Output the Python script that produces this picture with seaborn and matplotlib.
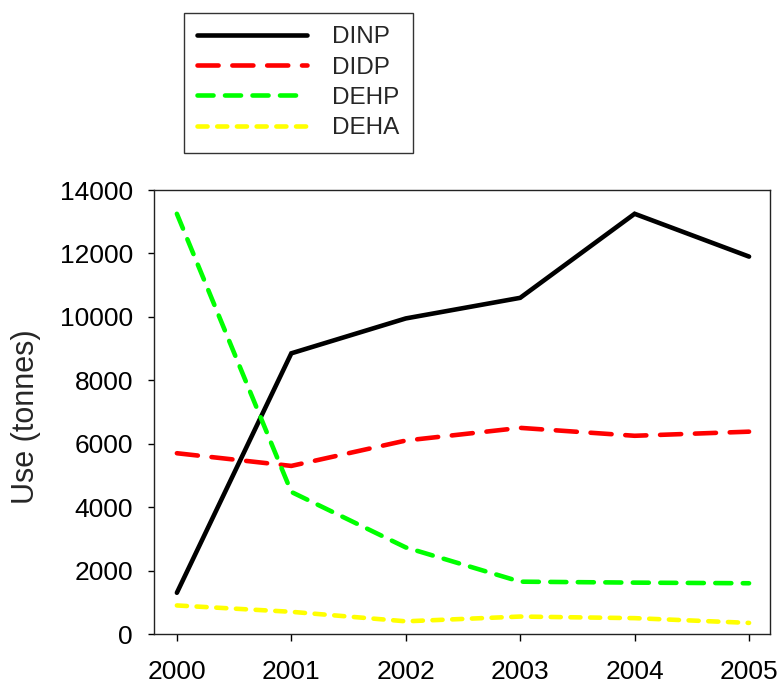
import matplotlib
matplotlib.use("Agg")
import matplotlib.pyplot as plt
import seaborn as sns
import pandas as pd

# ---- data ----
years = [2000, 2001, 2002, 2003, 2004, 2005]
dinp = [1300, 8850, 9950, 10600, 13250, 11900]
didp = [5700, 5300, 6100, 6500, 6250, 6380]
dehp = [13250, 4480, 2730, 1650, 1620, 1600]
deha = [900, 700, 400, 550, 500, 350]
series_names = ["DINP", "DIDP", "DEHP", "DEHA"]
y_ticks = [0, 2000, 4000, 6000, 8000, 10000, 12000, 14000]
y_label = "Use (tonnes)"

sns.set_style("white")
plt.rcParams["font.family"] = ["Liberation Sans", "DejaVu Sans"]

df = pd.DataFrame({
    "year": years * 4,
    "value": dinp + didp + dehp + deha,
    "series": sum([[n] * len(years) for n in series_names], []),
})

colors = {"DINP": "#000000", "DIDP": "#ff0000", "DEHP": "#00ff00", "DEHA": "#ffff00"}
styles = {
    "DINP": "-",
    "DIDP": (0, (4.6, 3.0)),
    "DEHP": (0, (3.5, 2.5)),
    "DEHA": (0, (2.2, 2.1)),
}

fig = plt.figure(figsize=(7.8, 6.84), dpi=100)
ax = fig.add_axes([154 / 780, 1 - 634 / 684, (770 - 154) / 780, (634 - 190) / 684])

for name in series_names:
    sub = df[df["series"] == name]
    sns.lineplot(data=sub, x="year", y="value", ax=ax, color=colors[name],
                 linestyle=styles[name], linewidth=3.3, label=name,
                 legend=False)

for ln in ax.get_lines():
    ln.set_dash_capstyle("round")
    ln.set_solid_capstyle("round")
    ln.set_solid_joinstyle("miter")

ax.set_xlim(1999.8, 2005.183)
ax.set_ylim(0, 14000)
ax.set_xticks(years)
ax.set_xticklabels([str(y) for y in years])
ax.set_yticks(y_ticks)
ax.set_yticklabels([str(v) for v in y_ticks])
ax.set_xlabel("")
ax.set_ylabel(y_label, fontsize=22)
ax.yaxis.set_label_coords((41 - 154) / 616, 0.49)

ax.tick_params(axis="y", direction="out", length=4.3, width=1, pad=10.8,
               labelsize=19, left=True, right=False, colors="black")
ax.tick_params(axis="x", direction="out", length=5, width=1, pad=13.5,
               labelsize=19, bottom=True, top=False, colors="black")
for sp in ax.spines.values():
    sp.set_visible(True)
    sp.set_linewidth(1.0)
    sp.set_color("#222222")

handles, labels = ax.get_legend_handles_labels()
leg = fig.legend(handles, labels, loc="upper left",
                 bbox_to_anchor=(184 / 780, 1 - 13 / 684),
                 bbox_transform=fig.transFigure, borderaxespad=0,
                 fontsize=17.5, frameon=True, fancybox=False,
                 handlelength=4.5, handletextpad=1.05, labelspacing=0.34,
                 borderpad=0.55)
leg.get_frame().set_edgecolor("black")
leg.get_frame().set_linewidth(1.0)
for lh in leg.get_lines():
    lh.set_dash_capstyle("round")
    lh.set_solid_capstyle("round")

fig.savefig("out.png", dpi=100)
